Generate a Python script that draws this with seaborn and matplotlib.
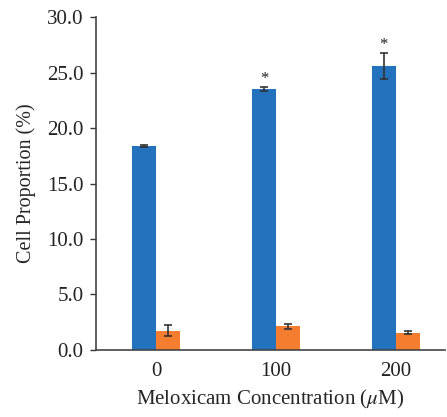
import matplotlib
matplotlib.use("Agg")
import matplotlib.pyplot as plt
import seaborn as sns
import pandas as pd

concentrations = ["0", "100", "200"]
series_names = ["A", "B"]
blue_values = [18.4, 23.5, 25.6]
blue_errors = [0.1, 0.15, 1.15]
orange_values = [1.75, 2.15, 1.55]
orange_errors = [0.48, 0.22, 0.12]
significant = [False, True, True]
yticks = [0, 5, 10, 15, 20, 25, 30]

sns.set_theme(style="white")
plt.rcParams['font.family'] = ['Liberation Serif', 'DejaVu Serif']
plt.rcParams['mathtext.fontset'] = 'stix'

df = pd.DataFrame({
    "conc": concentrations * 2,
    "series": [series_names[0]] * 3 + [series_names[1]] * 3,
    "value": blue_values + orange_values,
    "err": blue_errors + orange_errors,
})

fig = plt.figure(figsize=(4.47, 4.17), dpi=100)
ax = fig.add_axes([0.2148, 0.1607, 0.7807, 0.7985])
palette = {"A": "#2372BE", "B": "#F47D30"}
sns.barplot(data=df, x="conc", y="value", hue="series", order=concentrations,
            hue_order=series_names, palette=palette, width=0.4, gap=0,
            errorbar=None, saturation=1, legend=False, ax=ax, linewidth=0)

bars = [p for p in ax.patches]
errs = blue_errors + orange_errors
vals = blue_values + orange_values
for p, v, e in zip(bars, vals, errs):
    xc = p.get_x() + p.get_width() / 2
    ax.errorbar(xc, v, yerr=e, color="#333333", capsize=3, elinewidth=1.2,
                capthick=1.2, fmt="none")

for i, sig in enumerate(significant):
    if sig:
        p = bars[i]
        xc = p.get_x() + p.get_width() / 2
        ax.text(xc, blue_values[i] + blue_errors[i] + 0.05, "*", ha="center",
                va="bottom", fontsize=12, color="#222222")

ax.set_ylim(0, 30)
ax.set_xlim(-0.5, 2.41)
ax.set_yticks(yticks)
ax.set_yticklabels([f"{t:.1f}" for t in yticks])
ax.tick_params(axis="y", direction="out", length=4, width=1, color="#333333",
               labelsize=15, pad=5, left=True)
ax.tick_params(axis="x", length=0, labelsize=15, pad=9)
for s in ["top", "right"]:
    ax.spines[s].set_visible(False)
for s in ["left", "bottom"]:
    ax.spines[s].set_color("#444444")
    ax.spines[s].set_linewidth(1.2)
ax.set_xlabel(r"Meloxicam Concentration ($\mu$M)", fontsize=15, labelpad=5)
ax.set_ylabel("Cell Proportion (%)", fontsize=14.5, labelpad=8)
for lab in ax.get_xticklabels() + ax.get_yticklabels():
    lab.set_color("#222222")
fig.savefig("out.png", dpi=100)
